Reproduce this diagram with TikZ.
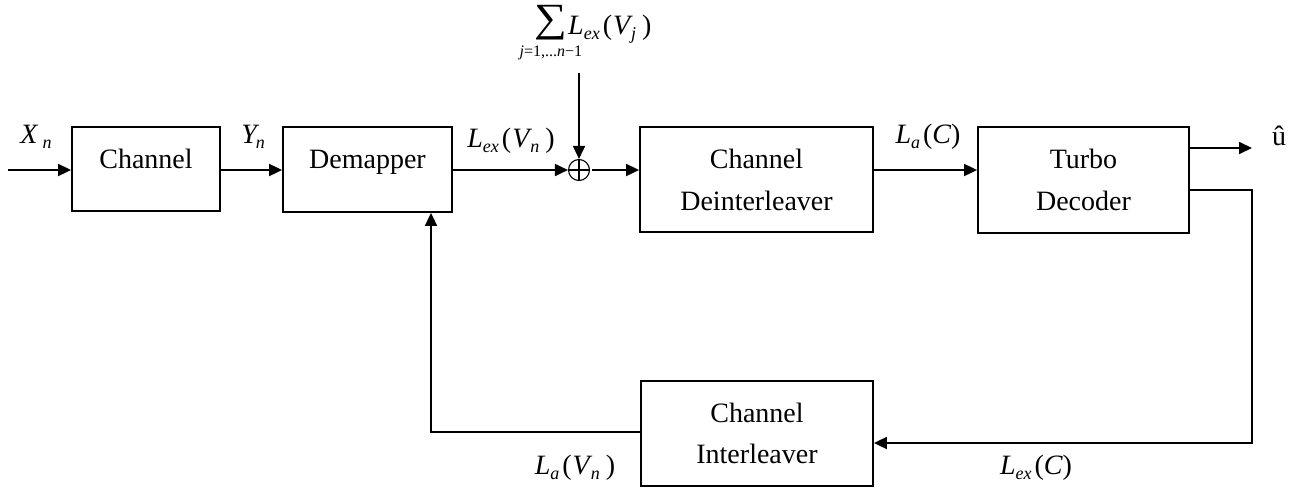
\documentclass[tikz,border=0pt]{standalone}
\usepackage{fontspec}
\setmainfont{Liberation Serif}
\usetikzlibrary{arrows.meta}

% italic variable and lowered italic subscript
\newcommand\vr[1]{{\itshape #1}}
\newcommand\sbs[1]{\raisebox{-2.5pt}{\fontsize{9}{9}\selectfont\itshape #1}}
% summation sign with its index set centred underneath
\newcommand\sumsym{\setbox0\hbox{\raisebox{1.5pt}{\scalebox{1.15}[1]{\fontsize{20}{20}\selectfont ∑}}}%
  \hbox to \wd0{\hss\raisebox{-11pt}{\fontsize{8}{8}\selectfont\itshape j\upshape=1,...\itshape n\upshape−1}\hss}%
  \kern-\wd0\box0}

\tikzset{
  blk/.style={draw, line width=0.9pt, inner sep=0pt},
  wire/.style={line width=0.9pt},
  arr/.style={wire, -{Triangle[length=6.5pt,width=6pt]}},
  txt/.style={anchor=base, inner sep=0pt, font=\fontsize{14}{16}\selectfont},
  lbl/.style={anchor=base, inner sep=0pt, font=\fontsize{14}{16}\selectfont},
  adder/.style={circle, draw, line width=0.55pt, minimum size=10.5pt, inner sep=0pt,
    path picture={\draw[line width=0.55pt]
      (path picture bounding box.north) -- (path picture bounding box.south)
      (path picture bounding box.west) -- (path picture bounding box.east);}}
}

\begin{document}
\begin{tikzpicture}[x=0.5pt, y=-0.5pt]
\useasboundingbox (0,0) rectangle (1311,488);

% blocks
\node[blk, minimum width=74pt,  minimum height=42pt]   (chan)  at (146,169)    {};
\node[blk, minimum width=84.5pt,minimum height=42.5pt] (demap) at (367.5,169.5){};
\node[blk, minimum width=116.5pt,minimum height=52.5pt](deint) at (756.5,179.5){};
\node[blk, minimum width=105.5pt,minimum height=53pt]  (turbo) at (1083.5,180) {};
\node[blk, minimum width=116pt, minimum height=52.5pt] (inter) at (757,433.5)  {};

% block texts
\node[txt] (tchan)  at (146,168)   {Channel};
\node[txt] (tdemap) at (367.5,168) {Demapper};
\node[txt] (tdei1)  at (756.5,168) {Channel};
\node[txt] (tdei2)  at (756.5,210) {Deinterleaver};
\node[txt] (ttur1)  at (1083.5,168){Turbo};
\node[txt] (ttur2)  at (1083.5,210){Decoder};
\node[txt] (tint1)  at (757,422)   {Channel};
\node[txt] (tint2)  at (757,463)   {Interleaver};

% adder
\node[adder] (sum) at (579,170) {};

% signal labels
\node[lbl, anchor=base west] (lx)  at (20,143)  {\vr{X}\kern2.5pt\sbs{n}};
\node[lbl, anchor=base west] (ly)  at (241,143) {\vr{Y}\kern-0.5pt\sbs{n}};
\node[lbl, anchor=base west] (lvn) at (467,147) {\vr{L}\sbs{ex}\kern1.5pt(\kern0.5pt\vr{V}\kern0.5pt\sbs{n}\kern3pt)};
\node[lbl, anchor=base west] (lsum) at (534,34) {\sumsym\kern0.5pt\vr{L}\sbs{ex}\kern1.5pt(\kern0.5pt\vr{V}\kern0.5pt\sbs{j}\kern3pt)};
\node[lbl] (lac)  at (928,143)  {\vr{L}\sbs{a}\kern1.5pt(\vr{C})};
\node[lbl] (uhat) at (1279,145) {û};
\node[lbl] (lavn) at (575,474)  {\vr{L}\sbs{a}\kern1.5pt(\kern0.5pt\vr{V}\kern0.5pt\sbs{n}\kern3pt)};
\node[lbl] (lexc) at (1036,474) {\vr{L}\sbs{ex}\kern1.5pt(\vr{C})};

% free ends and corners
\coordinate (xin)    at (8,170);
\coordinate (sumtop) at (579,73);
\coordinate (uout)   at (1252,148);
\coordinate (fbtop)  at (1252,190);
\coordinate (fbbot)  at (1252,443);
\coordinate (fbl)    at (431,432);

% forward path
\draw[arr] (xin) -- (xin -| chan.west);
\draw[arr] (chan.east |- xin) -- (demap.west |- xin);
\draw[arr] (demap.east |- sum) -- (sum.west);
\draw[arr] (sumtop) -- (sum.north);
\draw[arr, shorten <=1pt] (sum.east) -- (sum -| deint.west);
\draw[arr] (deint.east |- sum) -- (turbo.west |- sum);
\draw[arr] (turbo.east |- uout) -- (uout);

% feedback path
\draw[arr] (turbo.east |- fbtop) -- (fbtop) -- (fbbot) -- (inter.east |- fbbot);
\draw[arr] (inter.west |- fbl) -- (fbl) -- (fbl |- demap.south);
\end{tikzpicture}
\end{document}
